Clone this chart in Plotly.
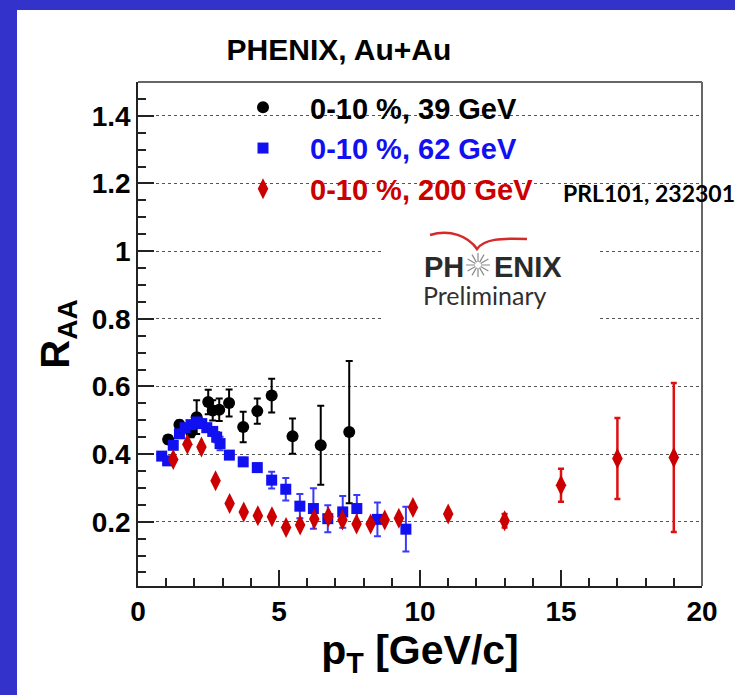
import math
import plotly.graph_objects as go

# ---------------- data ----------------
pt_39 = [1.07, 1.47, 1.88, 2.08, 2.49, 2.65, 2.88, 3.23, 3.73, 4.23, 4.74, 5.48, 6.48, 7.49]
raa_39 = [0.443, 0.487, 0.465, 0.509, 0.554, 0.529, 0.531, 0.551, 0.480, 0.527, 0.573, 0.453, 0.426, 0.465]
err_39 = [0.012, 0.012, 0.015, 0.05, 0.036, 0.03, 0.033, 0.04, 0.045, 0.037, 0.05, 0.052, 0.117, 0.21]

pt_62 = [0.84, 1.05, 1.25, 1.47, 1.67, 1.88, 2.08, 2.26, 2.44, 2.65, 2.79, 2.91,
         3.24, 3.73, 4.23, 4.74, 5.24, 5.74, 6.22, 6.73, 7.26, 7.76, 8.49, 9.50]
raa_62 = [0.394, 0.380, 0.426, 0.460, 0.478, 0.487, 0.495, 0.490, 0.478, 0.467, 0.450, 0.431,
          0.397, 0.377, 0.360, 0.323, 0.296, 0.246, 0.239, 0.209, 0.229, 0.239, 0.207, 0.178]
err_62 = [0.01, 0.01, 0.01, 0.01, 0.01, 0.01, 0.01, 0.012, 0.012, 0.012, 0.015, 0.02,
          0.01, 0.012, 0.012, 0.025, 0.033, 0.036, 0.06, 0.04, 0.047, 0.04, 0.05, 0.066]

pt_200 = [1.25, 1.75, 2.25, 2.75, 3.25, 3.75, 4.25, 4.75, 5.25, 5.75, 6.25, 6.75,
          7.25, 7.75, 8.25, 8.75, 9.25, 9.75, 11, 13, 15, 17, 19]
raa_200 = [0.384, 0.429, 0.421, 0.321, 0.254, 0.229, 0.218, 0.215, 0.183, 0.190, 0.208, 0.215,
           0.205, 0.193, 0.193, 0.205, 0.210, 0.242, 0.223, 0.203, 0.308, 0.387, 0.39]
err_200 = [0.005, 0.005, 0.005, 0.005, 0.005, 0.005, 0.005, 0.005, 0.005, 0.005, 0.005, 0.005,
           0.005, 0.005, 0.005, 0.005, 0.008, 0.01, 0.01, 0.02, 0.049, 0.12, 0.22]

series_names = ["0-10 %, 39 GeV", "0-10 %, 62 GeV", "0-10 %, 200 GeV"]
series_colors = ["#000000", "#1010f0", "#cc0000"]

# ---------------- geometry helpers (pixel -> paper) ----------------
W, H = 735, 695
ML, MR, MT, MB = 138, 33, 82, 109
PW = W - ML - MR
PH = H - MT - MB


def px_x(p):
    return (p - ML) / PW


def px_y(p):
    return (H - MB - p) / PH


BOLD = "Liberation Sans, Arial, Helvetica, sans-serif"

fig = go.Figure()


def add_series(x, y, e, name, color, symbol, size, ecolor, ethick, ewidth, group):
    fig.add_trace(go.Scatter(
        x=x, y=y, mode="markers", name=name, legendgroup=group,
        marker=dict(color=color, symbol=symbol, size=size, line=dict(width=0)),
        error_y=dict(type="data", array=e, visible=True, color=ecolor,
                     thickness=ethick, width=ewidth),
        hoverinfo="x+y",
    ))


add_series(pt_39, raa_39, err_39,
           "<span style='color:%s'>%s</span>" % (series_colors[0], series_names[0]),
           series_colors[0], "circle", 12, "#000000", 2, 3.5, "g39")
add_series(pt_62, raa_62, err_62,
           "<span style='color:%s'>%s</span>" % (series_colors[1], series_names[1]),
           series_colors[1], "square", 11, "#3a3aff", 2, 3.5, "g62")
add_series(pt_200, raa_200, err_200,
           "<span style='color:%s'>%s</span>" % (series_colors[2], series_names[2]),
           series_colors[2], "diamond-tall", 15, "#dd1111", 2.5, 3, "g200")

# ---------------- decorations ----------------
shapes = []
# blue slide border (top and left)
shapes.append(dict(type="rect", xref="paper", yref="paper", layer="below",
                   x0=px_x(0), x1=px_x(17), y0=px_y(H), y1=px_y(0),
                   fillcolor="#3333cc", line=dict(width=0)))
shapes.append(dict(type="rect", xref="paper", yref="paper", layer="below",
                   x0=px_x(0), x1=px_x(W), y0=px_y(10), y1=px_y(0),
                   fillcolor="#3333cc", line=dict(width=0)))
# top and right frame
shapes.append(dict(type="line", xref="paper", yref="paper", x0=0, x1=1, y0=1, y1=1,
                   line=dict(color="#666666", width=2)))
shapes.append(dict(type="line", xref="paper", yref="paper", x0=1, x1=1, y0=0, y1=1,
                   line=dict(color="#666666", width=2)))
# white box of the logo
shapes.append(dict(type="rect", xref="paper", yref="paper", layer="above",
                   x0=px_x(383), x1=px_x(597), y0=px_y(345), y1=px_y(212),
                   fillcolor="white", line=dict(width=0)))
# red swoosh of the logo
sw = "M %f %f C %f %f %f %f %f %f" % (px_x(430), px_y(235), px_x(450), px_y(229),
                                     px_x(468), px_y(236), px_x(477), px_y(249))
sw += " C %f %f %f %f %f %f" % (px_x(484), px_y(239), px_x(500), px_y(238),
                                px_x(527), px_y(239))
shapes.append(dict(type="path", xref="paper", yref="paper", layer="above", path=sw,
                   line=dict(color="#d42a2a", width=2.5)))
# star of the logo
cx, cy = 478, 265
star = ""
for k in range(12):
    a = math.pi * k / 6
    star += "M %f %f L %f %f " % (px_x(cx + 3 * math.cos(a)), px_y(cy + 3 * math.sin(a)),
                                  px_x(cx + 12 * math.cos(a)), px_y(cy + 12 * math.sin(a)))
shapes.append(dict(type="path", xref="paper", yref="paper", layer="above", path=star,
                   line=dict(color="#8a8a8a", width=1.2)))

annotations = [
    dict(text="PRL101, 232301", xref="paper", yref="paper", x=px_x(561), y=px_y(193),
         xanchor="left", yanchor="middle", showarrow=False,
         font=dict(family="Lato, Open Sans, sans-serif", size=23, weight="bold", color="black")),
    dict(text="PH", xref="paper", yref="paper", x=px_x(422), y=px_y(267),
         xanchor="left", yanchor="middle", showarrow=False,
         font=dict(family=BOLD, size=29, weight="bold", color="#2a2a2a")),
    dict(text="ENIX", xref="paper", yref="paper", x=px_x(492), y=px_y(267),
         xanchor="left", yanchor="middle", showarrow=False,
         font=dict(family=BOLD, size=29, weight="bold", color="#2a2a2a")),
    dict(text="Preliminary", xref="paper", yref="paper", x=px_x(421), y=px_y(295),
         xanchor="left", yanchor="middle", showarrow=False,
         font=dict(family="Lato, Open Sans, sans-serif", size=25, color="#303030")),
]

fig.update_layout(
    width=W, height=H,
    margin=dict(l=ML, r=MR, t=MT, b=MB, autoexpand=False),
    paper_bgcolor="white", plot_bgcolor="white",
    font=dict(family=BOLD, color="black"),
    title=dict(text="PHENIX, Au+Au", xref="paper", x=px_x(339), xanchor="center",
               yref="container", y=1 - 49 / H, yanchor="middle",
               font=dict(family=BOLD, size=30, weight="bold", color="black")),
    showlegend=True,
    legend=dict(x=px_x(216), y=px_y(82), xanchor="left", yanchor="top",
                bgcolor="rgba(0,0,0,0)", borderwidth=0, itemwidth=84,
                tracegroupgap=6, traceorder="normal",
                font=dict(family=BOLD, size=29, weight="bold", color="black")),
    xaxis=dict(range=[0, 20], tick0=0, dtick=5, ticks="inside", ticklen=16, tickwidth=1.5,
               tickcolor="#222222", showgrid=False, zeroline=False,
               showline=True, linecolor="#222222", linewidth=1.5,
               minor=dict(dtick=1, ticks="inside", ticklen=8, tickwidth=1.5,
                          tickcolor="#222222", showgrid=False),
               tickfont=dict(family=BOLD, size=28, weight="bold", color="black"),
               title=dict(text="p<sub>T</sub> [GeV/c]", standoff=8,
                          font=dict(family=BOLD, size=41, weight="bold", color="black"))),
    yaxis=dict(range=[0.01, 1.5], tick0=0, dtick=0.2, ticks="inside", ticklen=16, tickwidth=1.5,
               tickcolor="#222222", showgrid=True, gridcolor="#555555", griddash="dot",
               gridwidth=1, zeroline=False,
               showline=True, linecolor="#222222", linewidth=1.5,
               minor=dict(dtick=0.05, ticks="inside", ticklen=8, tickwidth=1.5,
                          tickcolor="#222222", showgrid=False),
               tickfont=dict(family=BOLD, size=28, weight="bold", color="black"),
               title=dict(text="R<sub>AA</sub>", standoff=10,
                          font=dict(family=BOLD, size=40, weight="bold", color="black"))),
    shapes=shapes,
    annotations=annotations,
)

fig.write_html("out.html",
               config={"displayModeBar": False},
               post_script="document.body.style.margin='0px';"
                           "document.body.style.overflow='hidden';")
